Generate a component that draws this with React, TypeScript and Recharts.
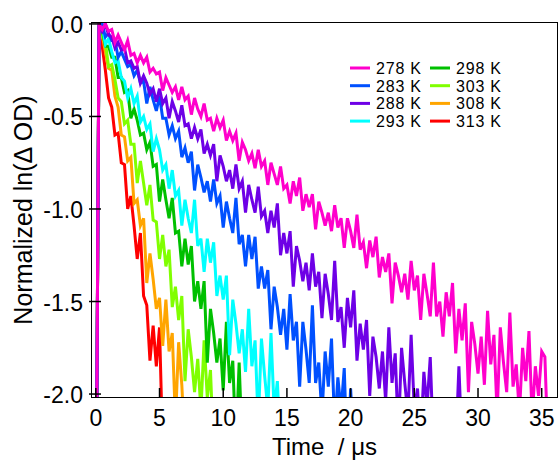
import React from 'react';
import { LineChart, Line, XAxis, YAxis } from 'recharts';

// sampling step of the transients, in µs
const DT = 0.25;

const k278 = [
  -3.0, 0.0, -0.03, 0.0, -0.04, -0.03, -0.1, -0.06, -0.1, -0.14, -0.09, -0.17, -0.16, -0.21, -0.17, -0.21, -0.18, -0.26, -0.24, -0.27, -0.26,
  -0.36, -0.29, -0.33, -0.37, -0.34, -0.41, -0.34, -0.41, -0.39, -0.49, -0.4, -0.46, -0.5, -0.43, -0.52, -0.51, -0.58, -0.51, -0.56, -0.52,
  -0.63, -0.58, -0.63, -0.59, -0.74, -0.64, -0.68, -0.74, -0.7, -0.78, -0.68, -0.77, -0.74, -0.87, -0.75, -0.81, -0.87, -0.77, -0.89, -0.87,
  -0.97, -0.85, -0.93, -0.83, -1.01, -0.92, -0.99, -0.92, -1.11, -0.96, -1.02, -1.09, -1.02, -1.12, -0.98, -1.1, -1.05, -1.21, -1.05, -1.12,
  -1.21, -1.03, -1.22, -1.18, -1.32, -1.17, -1.26, -1.15, -1.37, -1.26, -1.34, -1.24, -1.51, -1.29, -1.36, -1.45, -1.35, -1.49, -1.28, -1.44,
  -1.36, -1.6, -1.35, -1.46, -1.58, -1.29, -1.58, -1.5, -1.69, -1.45, -1.58, -1.4, -1.78, -1.54, -1.71, -1.51, -1.99, -1.61, -1.73, -1.89,
  -1.69, -1.95, -1.55, -1.84, -1.68, -2.11, -1.64, -1.83, -1.99, -1.56, -1.96, -1.84, -2.11, -1.75, -1.93, -1.66, -2.13, -1.85, -2.01, -1.77, -1.8, -2.3,
];
const k283 = [
  -3.0, -0.01, 0.0, -0.07, -0.05, -0.09, -0.09, -0.18, -0.15, -0.19, -0.23, -0.22, -0.28, -0.25, -0.32, -0.31, -0.43, -0.34, -0.41, -0.47, -0.39,
  -0.51, -0.51, -0.6, -0.55, -0.62, -0.58, -0.72, -0.67, -0.75, -0.69, -0.9, -0.76, -0.83, -0.91, -0.85, -0.96, -0.84, -0.97, -0.93, -1.1,
  -0.96, -1.05, -1.13, -0.94, -1.19, -1.14, -1.31, -1.14, -1.27, -1.15, -1.43, -1.31, -1.43, -1.33, -1.65, -1.42, -1.53, -1.68, -1.54, -1.76,
  -1.46, -1.71, -1.61, -1.96, -1.61, -1.76, -1.94, -1.52, -1.94, -1.83, -2.12, -1.77, -1.96, -1.7, -2.18, -1.91, -2.09, -1.86, -2.39, -1.97, -2.3,
];
const k288 = [
  -3.0, -0.01, -0.04, 0.0, -0.06, -0.07, -0.13, -0.1, -0.14, -0.13, -0.21, -0.2, -0.24, -0.23, -0.32, -0.28, -0.32, -0.38, -0.35, -0.42, -0.35,
  -0.43, -0.4, -0.51, -0.42, -0.47, -0.53, -0.44, -0.55, -0.54, -0.62, -0.56, -0.62, -0.57, -0.7, -0.65, -0.71, -0.65, -0.85, -0.71, -0.77,
  -0.85, -0.79, -0.89, -0.76, -0.89, -0.85, -1.02, -0.87, -0.95, -1.02, -0.88, -1.04, -1.01, -1.13, -1.01, -1.1, -0.97, -1.25, -1.13, -1.24,
  -1.12, -1.42, -1.2, -1.28, -1.39, -1.29, -1.44, -1.24, -1.42, -1.34, -1.59, -1.35, -1.46, -1.6, -1.28, -1.61, -1.53, -1.75, -1.48, -1.64,
  -1.44, -1.82, -1.62, -1.76, -1.6, -2.01, -1.69, -1.8, -1.97, -1.77, -2.04, -1.64, -1.94, -1.78, -2.22, -1.75, -1.94, -2.11, -1.68, -2.09,
  -1.97, -2.25, -1.88, -2.07, -1.8, -2.27, -2.05, -2.17, -2.13, -2.45, -2.02, -2.14, -2.3, -1.85, -2.3,
];
const k293 = [
  -3.0, -0.02, -0.01, -0.11, -0.08, -0.15, -0.21, -0.2, -0.29, -0.31, -0.4, -0.35, -0.43, -0.39, -0.53, -0.5, -0.57, -0.54, -0.69, -0.62, -0.68,
  -0.79, -0.76, -0.89, -0.79, -0.93, -0.9, -1.09, -0.95, -1.05, -1.13, -0.95, -1.2, -1.16, -1.34, -1.16, -1.29, -1.18, -1.47, -1.36, -1.49,
  -1.36, -1.79, -1.49, -1.62, -1.78, -1.65, -1.88, -1.54, -1.85, -1.71, -2.16, -1.7, -1.9, -2.08, -1.67, -2.09, -1.93, -2.3,
];
const k298 = [
  -3.0, -0.02, -0.03, -0.12, -0.12, -0.18, -0.18, -0.29, -0.29, -0.37, -0.36, -0.51, -0.46, -0.52, -0.6, -0.59, -0.68, -0.64, -0.77, -0.76, -0.96,
  -0.84, -0.95, -1.05, -0.94, -1.13, -1.12, -1.31, -1.16, -1.3, -1.2, -1.5, -1.39, -1.54, -1.39, -1.83, -1.54, -1.67, -1.83, -1.7, -1.98,
  -1.61, -1.94, -1.82, -2.29, -1.83, -2.3,
];
const k303 = [
  -3.0, -0.01, -0.07, -0.1, -0.23, -0.22, -0.3, -0.4, -0.42, -0.54, -0.52, -0.65, -0.65, -0.86, -0.74, -0.86, -0.98, -0.87, -1.06, -1.07,
  -1.27, -1.14, -1.31, -1.22, -1.53, -1.42, -1.6, -1.47, -1.93, -1.65, -1.8, -1.99, -1.81, -2.09, -1.71, -2.02, -1.87, -2.32,
];
const k308 = [
  -3.0, -0.02, -0.06, -0.15, -0.24, -0.25, -0.39, -0.45, -0.6, -0.61, -0.74, -0.72, -0.97, -0.95, -1.09, -1.05, -1.4, -1.24, -1.38, -1.54,
  -1.48, -1.74, -1.49, -1.77, -1.67, -2.15, -1.72, -1.95, -2.3,
];
const k313 = [
  -3.0, -0.02, -0.12, -0.25, -0.4, -0.45, -0.6, -0.59, -0.75, -0.76, -1.0, -0.93, -1.09, -1.27, -1.13, -1.47, -1.52, -1.82, -1.63, -1.85,
  -1.64, -2.3,
];

const names = ['278 K', '283 K', '288 K', '293 K', '298 K', '303 K', '308 K', '313 K'];
const colors = ['#ff00cc', '#0050ff', '#6e00e6', '#00ffff', '#00c000', '#80ff00', '#ffa500', '#ff0000'];
const valueSets = [k278, k283, k288, k293, k298, k303, k308, k313];

const xTicks = [0, 5, 10, 15, 20, 25, 30, 35];
const yTicks = [0, -0.5, -1, -1.5, -2];

const series = names.map((name, i) => ({
  name,
  color: colors[i],
  data: valueSets[i].map((v, j) => ({ t: j * DT, v })),
}));

// draw slow traces last so they sit on top, like the original
const drawOrder = [7, 6, 5, 4, 3, 1, 2, 0];

const W = 560;
const H = 463;
const LEFT = 92;
const TOP = 23;
const RIGHT = 557;
const BOTTOM = 397;
const FONT = '"Liberation Sans", Arial, sans-serif';

function YTick(props: any) {
  const { y, payload } = props;
  return (
    <g>
      <line x1={LEFT - 3} x2={LEFT + 9} y1={y} y2={y} stroke="#000" strokeWidth={1.5} />
      <text x={83} y={y + 9} textAnchor="end" fontSize={23} fill="#000" fontFamily={FONT}>
        {Number(payload.value).toFixed(1)}
      </text>
    </g>
  );
}

function XTick(props: any) {
  const { x, payload } = props;
  return (
    <g>
      <line x1={x} x2={x} y1={BOTTOM - 9} y2={BOTTOM} stroke="#000" strokeWidth={1.5} />
      <text x={x} y={426} textAnchor="middle" fontSize={23} fill="#000" fontFamily={FONT}>
        {payload.value}
      </text>
    </g>
  );
}

function Legend8() {
  return (
    <svg width={W} height={H} style={{ position: 'absolute', left: 0, top: 0, pointerEvents: 'none' }}>
      {series.map((s, i) => {
        const col = Math.floor(i / 4);
        const row = i % 4;
        const x = 350 + col * 80;
        const y = 68 + row * 17.7;
        return (
          <g key={s.name}>
            <line x1={x} x2={x + 20} y1={y} y2={y} stroke={s.color} strokeWidth={3} />
            <text x={x + 26} y={y + 6} fontSize={16} fill="#000" fontFamily={FONT} letterSpacing={0.8}>
              {s.name}
            </text>
          </g>
        );
      })}
    </svg>
  );
}

export default function App() {
  return (
    <div style={{ position: 'relative', width: W, height: H, fontFamily: FONT, background: '#fff' }}>
      <style>{'body{margin:0;}'}</style>
      <LineChart width={W} height={H} margin={{ top: TOP, right: W - RIGHT, bottom: 0, left: 0 }}>
        <XAxis
          type="number"
          dataKey="t"
          domain={[-0.3, 36.2]}
          allowDataOverflow
          ticks={xTicks}
          interval={0}
          height={H - BOTTOM}
          tickLine={false}
          axisLine={false}
          tick={<XTick />}
          label={() => (
            <text x={(LEFT + RIGHT) / 2} y={455} textAnchor="middle" fontSize={24} fill="#000" fontFamily={FONT}>
              {'Time\u00a0\u00a0/\u00a0\u03bcs'}
            </text>
          )}
        />
        <YAxis
          type="number"
          domain={[-2.016, 0.005]}
          allowDataOverflow
          ticks={yTicks}
          interval={0}
          width={LEFT}
          tickLine={false}
          axisLine={false}
          tick={<YTick />}
          label={() => (
            <text
              transform={`translate(32, ${(TOP + BOTTOM) / 2}) rotate(-90)`}
              textAnchor="middle"
              fontSize={25}
              fill="#000"
              fontFamily={FONT}
            >
              Normalized ln(Δ OD)
            </text>
          )}
        />
        {drawOrder.map((i) => (
          <Line
            key={series[i].name}
            data={series[i].data}
            dataKey="v"
            name={series[i].name}
            type="linear"
            stroke={series[i].color}
            strokeWidth={3}
            dot={false}
            activeDot={false}
            isAnimationActive={false}
          />
        ))}
      </LineChart>
      <div
        style={{
          position: 'absolute',
          left: LEFT - 1,
          top: TOP - 1,
          width: RIGHT - LEFT + 2,
          height: BOTTOM - TOP + 2,
          border: '1.5px solid #000',
          boxSizing: 'border-box',
          pointerEvents: 'none',
        }}
      />
      <Legend8 />
    </div>
  );
}
